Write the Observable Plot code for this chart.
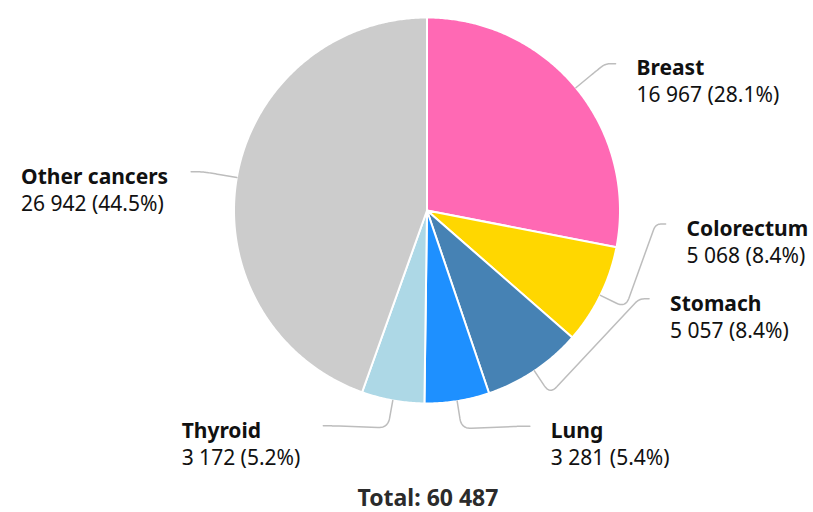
<!DOCTYPE html>
<html>
<head>
<meta charset="utf-8">
<script src="https://cdn.jsdelivr.net/npm/d3@7"></script>
<script src="https://cdn.jsdelivr.net/npm/@observablehq/plot@0.6"></script>
<style>
  html, body { margin: 0; padding: 0; background: #fff; }
  #chart svg { display: block; }
</style>
</head>
<body>
<div id="chart"></div>
<script>
// ---- data ----
const names  = ["Breast", "Colorectum", "Stomach", "Lung", "Thyroid", "Other cancers"];
const counts = [16967, 5068, 5057, 3281, 3172, 26942];
const colors = ["#ff69b4", "#ffd700", "#4682b4", "#1e90ff", "#add8e6", "#cccccc"];
const totalLabel = "Total";

// ---- layout (not data) ----
const W = 813, H = 512;
const cx = 426.5, cy = 210, R = 193;
const elbowR = R + 28, labelR = 239;
const labelShiftDeg = {"Breast": 1.6, "Colorectum": -22.8, "Stomach": -34.5, "Lung": -16.5, "Thyroid": 15.5, "Other cancers": -0.5};
const FONT = "Noto Sans";
const FS = 21;
const TFS = 23;

const rows = names.map((n, i) => ({name: n, count: counts[i]}));
const total = d3.sum(counts);
const fmtInt = v => d3.format(",")(v).replace(/,/g, " ");
const fmtPct = v => d3.format(".1f")(v * 100) + "%";

const arcs = d3.pie().sort(null).value(d => d.count)(rows);
const polar = (a, r) => [cx + r * Math.sin(a), cy - r * Math.cos(a)];

// slice polygons
const slicePts = [];
arcs.forEach(a => {
  const n = a.data.name;
  slicePts.push({name: n, x: cx, y: cy});
  const steps = Math.max(4, Math.ceil((a.endAngle - a.startAngle) / (Math.PI / 360)));
  for (let k = 0; k <= steps; k++) {
    const t = a.startAngle + (a.endAngle - a.startAngle) * k / steps;
    const [x, y] = polar(t, R);
    slicePts.push({name: n, x, y});
  }
  slicePts.push({name: n, x: cx, y: cy});
});

// rounded polyline helper
function rounded(pts, radii) {
  const out = [pts[0]];
  for (let i = 1; i < pts.length - 1; i++) {
    const P = pts[i - 1], V = pts[i], N = pts[i + 1];
    const dp = Math.hypot(P[0] - V[0], P[1] - V[1]);
    const dn = Math.hypot(N[0] - V[0], N[1] - V[1]);
    const r = radii[i - 1];
    const ra = Math.min(r, dp / 2), rb = Math.min(r, dn / 2);
    const A = [V[0] + (P[0] - V[0]) * ra / dp, V[1] + (P[1] - V[1]) * ra / dp];
    const B = [V[0] + (N[0] - V[0]) * rb / dn, V[1] + (N[1] - V[1]) * rb / dn];
    for (let k = 0; k <= 10; k++) {
      const t = k / 10, u = 1 - t;
      out.push([u * u * A[0] + 2 * u * t * V[0] + t * t * B[0], u * u * A[1] + 2 * u * t * V[1] + t * t * B[1]]);
    }
  }
  out.push(pts[pts.length - 1]);
  return out;
}

// text measuring
const ctx = document.createElement("canvas").getContext("2d");
const measure = (s, w) => { ctx.font = `${w} ${FS}px "${FONT}"`; return ctx.measureText(s).width; };

const connPts = [];
const labels = [];
arcs.forEach(a => {
  const n = a.data.name;
  const mid = (a.startAngle + a.endAngle) / 2;
  const la = mid + labelShiftDeg[n] * Math.PI / 180;
  const end = polar(la, labelR);
  const side = Math.sin(la) >= 0 ? 1 : -1;
  const start = polar(mid, R);
  const elbow = polar(mid, elbowR);
  const pre = [end[0] - side * 10, end[1]];
  rounded([start, elbow, pre, end], [10, 6]).forEach(p => connPts.push({name: n, x: p[0], y: p[1]}));
  const nameTxt = n;
  const valTxt = `${fmtInt(a.data.count)} (${fmtPct(a.data.count / total)})`;
  const bw = Math.max(measure(nameTxt, "bold"), measure(valTxt, "normal"));
  const lx = side > 0 ? end[0] + 21 : end[0] - 23 - bw;
  labels.push({name: nameTxt, value: valTxt, lx, ny: end[1] + 5, vy: end[1] + 32});
});

const chart = Plot.plot({
  width: W,
  height: H,
  margin: 0,
  x: {domain: [0, W], range: [0, W], axis: null},
  y: {domain: [0, H], range: [0, H], axis: null},
  color: {domain: names, range: colors},
  style: {fontFamily: `"${FONT}", sans-serif`, background: "#fff"},
  marks: [
    Plot.line(slicePts, {x: "x", y: "y", z: "name", fill: "name", stroke: "#fff", strokeWidth: 2, curve: "linear"}),
    Plot.line(connPts, {x: "x", y: "y", z: "name", stroke: "#bdbdbd", strokeWidth: 1.5, curve: "linear"}),
    Plot.text(labels, {x: "lx", y: "ny", text: "name", textAnchor: "start", fontWeight: "bold", fontSize: FS, fill: "#111"}),
    Plot.text(labels, {x: "lx", y: "vy", text: "value", textAnchor: "start", fontSize: FS, fill: "#111"}),
    Plot.text([`${totalLabel}: ${fmtInt(total)}`], {x: () => cx + 1, y: () => H - 14, text: d => d, textAnchor: "middle", fontWeight: "bold", fontSize: TFS, fill: "#2b2b2b"})
  ]
});
document.getElementById("chart").appendChild(chart);
</script>
</body>
</html>
